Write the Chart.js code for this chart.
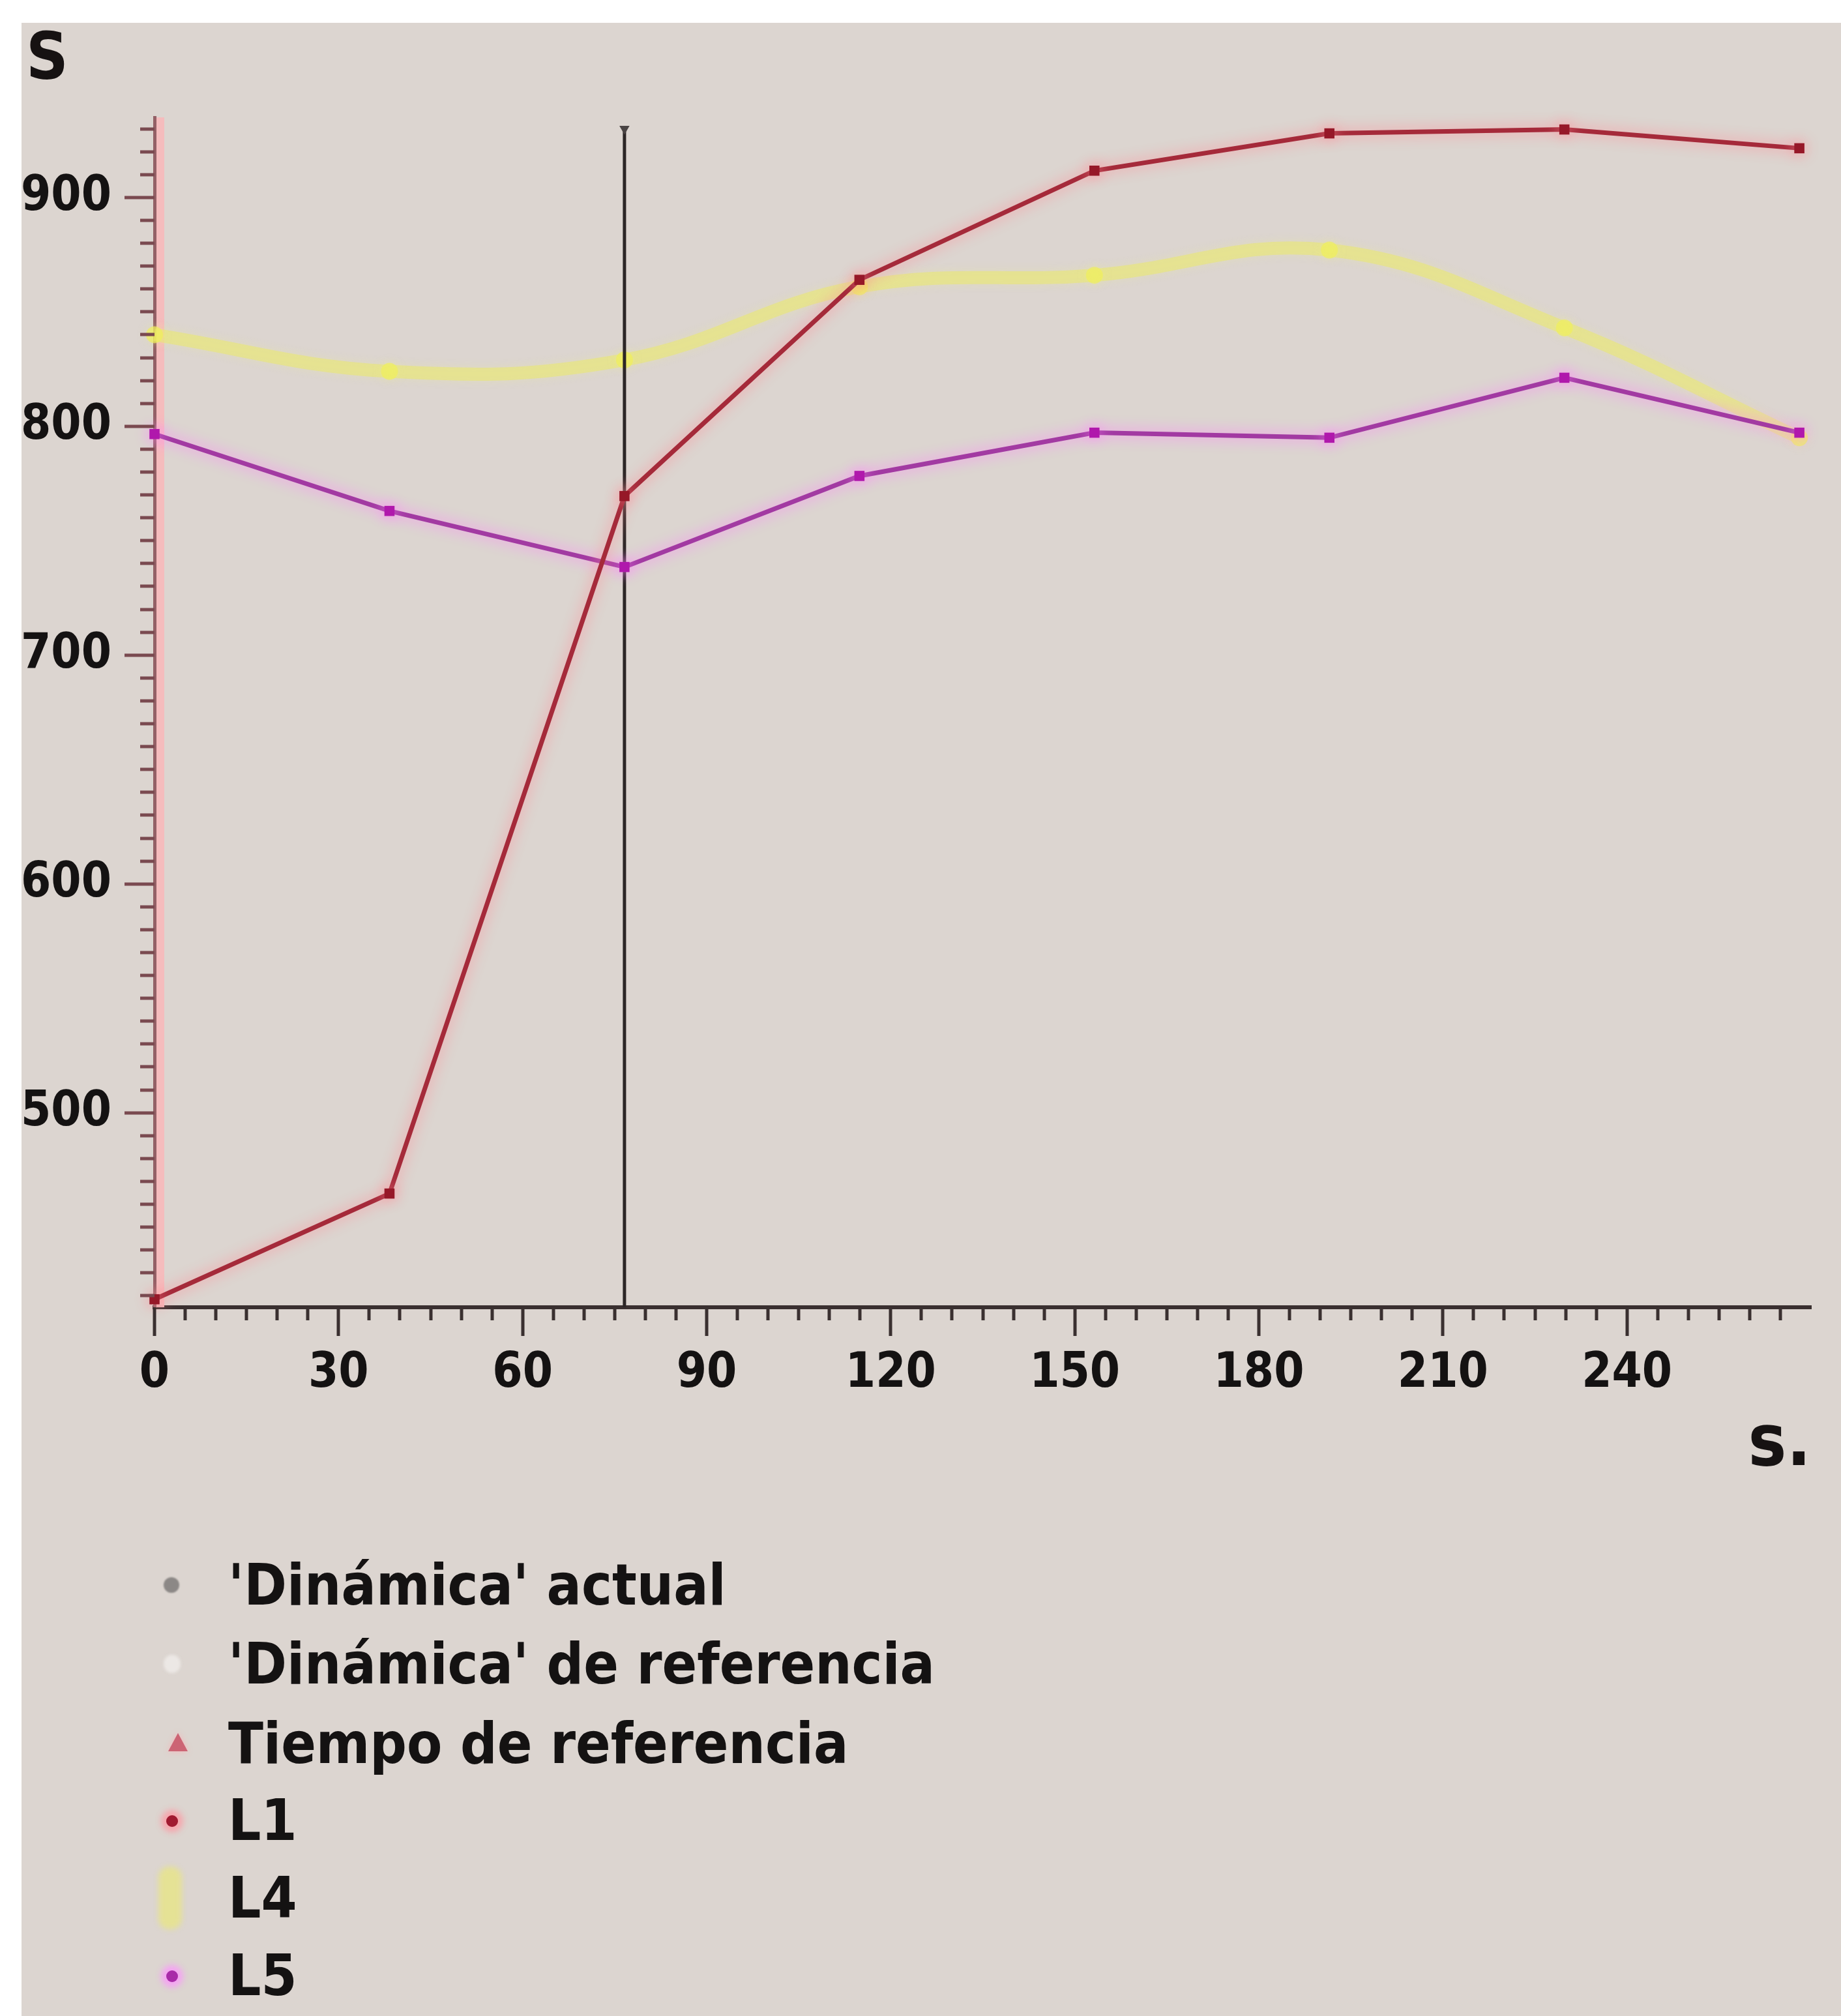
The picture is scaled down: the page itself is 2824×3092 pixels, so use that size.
<!DOCTYPE html>
<html>
<head>
<meta charset="utf-8">
<script src="https://cdn.jsdelivr.net/npm/chart.js@4.4.1/dist/chart.umd.min.js"></script>
<style>
  html, body { margin:0; padding:0; background:#ffffff; }
  body { width:2824px; height:3092px; position:relative; overflow:hidden; }
  #panel { position:absolute; left:33px; top:35px; right:0; bottom:0; background:#dcd5d0; }
  #chart { position:absolute; left:0; top:0; }
  .row { position:absolute; left:0; height:120px; width:2000px; }
  .txt { position:absolute; left:350px; top:0; height:120px; line-height:120px;
         font-family:'Liberation Sans Narrow','DejaVu Sans Condensed','Arial Narrow',sans-serif;
         font-weight:bold; font-size:88px; color:#141212; white-space:nowrap; }
  .mk { position:absolute; }
</style>
</head>
<body>
<div id="panel"></div>
<canvas id="chart" width="2824" height="2300" style="width:2824px;height:2300px"></canvas>
<div id="legend"></div>
<script>
// ---- data ----
const times = [0, 38.3, 76.6, 114.9, 153.2, 191.5, 229.8, 268.1];
const l1Values = [418.5, 464.7, 769.5, 864, 911.7, 928, 929.7, 921.5];
const l4Values = [840, 824, 829, 861, 866, 877, 843, 795];
const l5Values = [796.6, 763, 738.5, 778.3, 797.2, 795, 821.2, 797.2];
const currentTime = [76.6, 76.6];
const currentTimeRange = [415, 930];
const xTickLabels = [0, 30, 60, 90, 120, 150, 180, 210, 240];
const yTickLabels = [500, 600, 700, 800, 900];
const legendLabels = ["'Dinámica' actual", "'Dinámica' de referencia", "Tiempo de referencia", "L1", "L4", "L5"];
const seriesNames = ["L1", "L4", "L5"];

const FONT = "'Liberation Sans Narrow','DejaVu Sans Condensed','Arial Narrow',sans-serif";
const toXY = (vals) => vals.map((v, i) => ({ x: times[i], y: v }));

const decor = {
  id: 'decor',
  beforeDatasetsDraw(chart) {
    const ctx = chart.ctx, a = chart.chartArea;
    ctx.save();
    ctx.fillStyle = 'rgba(246,186,188,0.95)';
    ctx.fillRect(a.left + 3, a.top, 12, a.bottom - a.top);
    ctx.restore();
  },
  beforeDatasetDraw(chart, args) {
    const ds = chart.data.datasets[args.index];
    if (ds.glow) { chart.ctx.save(); chart.ctx.shadowColor = ds.glow; chart.ctx.shadowBlur = ds.glowBlur || 16; }
  },
  afterDatasetDraw(chart, args) {
    const ds = chart.data.datasets[args.index];
    if (ds.glow) chart.ctx.restore();
  },
  afterDraw(chart) {
    const ctx = chart.ctx, a = chart.chartArea;
    const xs = chart.scales.x, ys = chart.scales.y;
    ctx.save();
    ctx.lineWidth = 5;
    ctx.strokeStyle = '#3a3030';
    for (let t = 0; t <= 265; t += 5) {
      const px = Math.round(xs.getPixelForValue(t));
      const len = (t % 30 === 0) ? 44 : 20;
      ctx.beginPath(); ctx.moveTo(px, a.bottom); ctx.lineTo(px, a.bottom + len); ctx.stroke();
    }
    ctx.strokeStyle = '#7a4a50';
    for (let v = 420; v <= 930; v += 10) {
      const py = Math.round(ys.getPixelForValue(v));
      const len = (v % 100 === 0) ? 46 : 22;
      ctx.beginPath(); ctx.moveTo(a.left, py); ctx.lineTo(a.left - len, py); ctx.stroke();
    }
    ctx.fillStyle = '#161212';
    ctx.textBaseline = 'alphabetic';
    ctx.textAlign = 'left';
    ctx.font = 'bold 100px ' + FONT;
    ctx.fillText('S', 40, 121);
    ctx.textAlign = 'right';
    ctx.font = 'bold 110px ' + FONT;
    ctx.fillText('s.', 2778, 2247);
    ctx.restore();
  }
};

const chart = new Chart(document.getElementById('chart'), {
  type: 'scatter',
  data: {
    datasets: [
      { label: seriesNames[0], data: toXY(l1Values), showLine: true, borderColor: '#a52a3a', borderWidth: 7,
        pointRadius: 11, pointStyle: 'rect', pointBackgroundColor: '#961828', pointBorderWidth: 0,
        glow: 'rgba(255,140,150,1)', glowBlur: 22, clip: false },
      { label: seriesNames[2], data: toXY(l5Values), showLine: true, borderColor: '#a23aa2', borderWidth: 7,
        pointRadius: 11, pointStyle: 'rect', pointBackgroundColor: '#b018ac', pointBorderWidth: 0,
        glow: 'rgba(255,130,250,1)', glowBlur: 22, clip: false },
      { label: 'actual', data: currentTime.map((t, i) => ({ x: t, y: currentTimeRange[i] })), showLine: true,
        borderColor: '#2c2626', borderWidth: 5, pointRadius: [0, 9], pointStyle: 'triangle', rotation: 180,
        pointBackgroundColor: '#4a4444', pointBorderWidth: 0, clip: false },
      { label: seriesNames[1], data: toXY(l4Values), showLine: true, borderColor: 'rgba(234,232,115,0.6)',
        borderWidth: 20, tension: 0.4, pointRadius: 13, pointBackgroundColor: 'rgba(240,240,90,0.7)',
        pointBorderWidth: 0, glow: 'rgba(236,236,140,0.5)', glowBlur: 14, clip: false }
    ]
  },
  options: {
    responsive: false,
    animation: false,
    devicePixelRatio: 1,
    layout: { padding: { left: 0, top: 180, right: 46, bottom: 0 } },
    plugins: { legend: { display: false }, tooltip: { enabled: false } },
    scales: {
      x: {
        type: 'linear', min: 0, max: 270,
        afterBuildTicks: (s) => { s.ticks = xTickLabels.map(v => ({ value: v })); },
        afterFit: (s) => { s.height = 295; },
        grid: { display: false, drawTicks: false },
        border: { display: true, color: '#3a3030', width: 6 },
        ticks: { autoSkip: false, maxRotation: 0, padding: 58, color: '#141212',
                 font: { family: FONT, size: 74, weight: 'bold' } }
      },
      y: {
        type: 'linear', min: 415, max: 935,
        afterBuildTicks: (s) => { s.ticks = yTickLabels.map(v => ({ value: v })); },
        afterFit: (s) => { s.width = 237; },
        grid: { display: false, drawTicks: false },
        border: { display: true, color: '#946066', width: 5 },
        ticks: { autoSkip: false, padding: 66, color: '#141212',
                 font: { family: FONT, size: 74, weight: 'bold' } }
      }
    }
  },
  plugins: [decor]
});

// ---- legend (HTML text) ----
const rowCenters = [2431, 2552, 2674, 2792, 2911, 3030];
const markers = [
  '<div class="mk" style="left:251px;top:48px;width:24px;height:24px;border-radius:50%;background:#8c8886;filter:blur(1px)"></div>',
  '<div class="mk" style="left:251px;top:46px;width:26px;height:28px;border-radius:50%;background:#ece8e5;filter:blur(2px)"></div>',
  '<div class="mk" style="left:258px;top:44px;width:0;height:0;border-left:15px solid transparent;border-right:15px solid transparent;border-bottom:28px solid #cc6474;filter:drop-shadow(0 0 5px #f7b4b8)"></div>',
  '<div class="mk" style="left:255px;top:52px;width:18px;height:18px;border-radius:50%;background:#a01a30;box-shadow:0 0 10px 8px rgba(250,160,168,0.9)"></div>',
  '<div class="mk" style="left:243px;top:12px;width:36px;height:96px;border-radius:16px;background:rgba(232,230,130,0.75);filter:blur(4px)"></div>',
  '<div class="mk" style="left:255px;top:52px;width:18px;height:18px;border-radius:50%;background:#a82aa8;box-shadow:0 0 10px 8px rgba(246,160,244,0.95)"></div>'
];
const lg = document.getElementById('legend');
legendLabels.forEach((lab, i) => {
  const row = document.createElement('div');
  row.className = 'row';
  row.style.top = (rowCenters[i] - 60) + 'px';
  row.innerHTML = markers[i] + '<div class="txt"></div>';
  row.querySelector('.txt').textContent = lab;
  lg.appendChild(row);
});
</script>
</body>
</html>
